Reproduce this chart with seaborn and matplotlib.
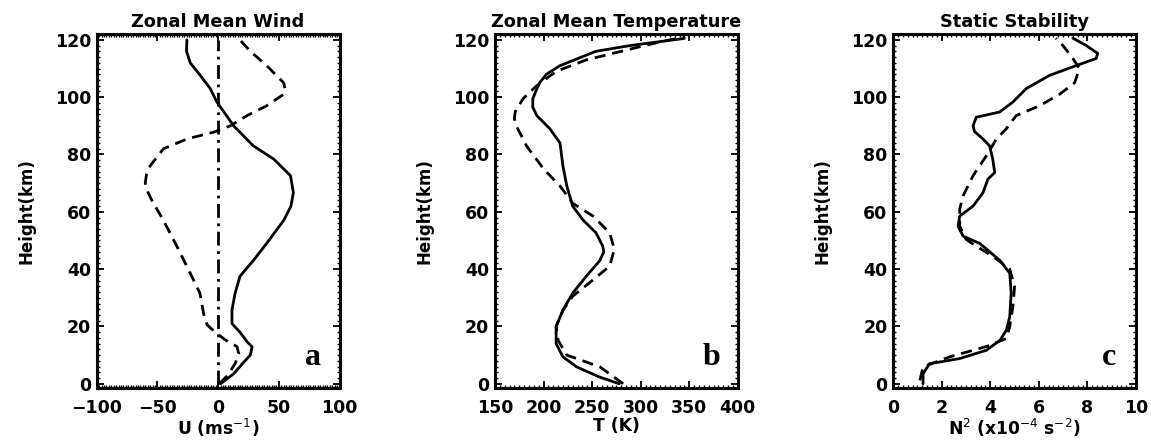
import numpy as np
import pandas as pd
import matplotlib
matplotlib.use("Agg")
import matplotlib.pyplot as plt
import seaborn as sns
from matplotlib.ticker import MultipleLocator

sns.set_theme(style="ticks")
plt.rcParams['font.family'] = ['DejaVu Sans']
plt.rcParams.update({"text.color": "black", "axes.labelcolor": "black",
                     "xtick.color": "black", "ytick.color": "black",
                     "axes.edgecolor": "black"})

# ---- Panel a: Zonal mean wind ----
wind_solid_h = [0, 3.5, 7, 10, 12.9, 14.6, 18, 21, 25.7, 31.6, 37.5, 43, 49, 57, 62, 66.7, 72.6, 78.4, 83, 90, 95, 98.3, 103, 107.6, 112, 116, 120]
wind_solid_u = [2, 12.8, 20, 26.5, 28, 24, 18, 11.4, 11.4, 14, 18, 29, 40, 54, 60, 62, 59.6, 45.8, 29, 12.8, 4.5, -1, -6.5, -14.7, -23, -26, -25.7]
wind_dash_h = [0, 3, 7, 10.5, 13, 15, 17.5, 20.5, 24.6, 31.6, 38.6, 48, 57, 64, 67, 70, 73, 76, 82, 85.4, 87.8, 90, 93.6, 97, 101, 103, 105, 111, 116, 120]
wind_dash_u = [1, 8, 14, 17, 15.5, 7, -1, -9, -12, -15, -23, -34, -45, -54.6, -58, -60, -59, -56, -45, -25.7, -3.7, 10, 24, 40, 54, 55, 54, 40, 26.5, 18]
wind_zero_h = [0, 120]
wind_zero_u = [0, 0]

# ---- Panel b: Zonal mean temperature ----
temp_solid_h = [0, 2.3, 5.9, 9.4, 14, 20, 25.7, 31.6, 37.5, 43, 46, 48, 52.7, 57, 62, 69, 76, 84, 89, 93.6, 96.5, 99.5, 102, 105, 108, 111, 116, 118, 120.5]
temp_solid_t = [278, 258, 234, 220, 213, 213, 220, 230, 244, 258, 262, 261, 254, 241, 230, 224, 220, 217, 206.5, 193, 189, 189, 192, 196, 203, 217, 254, 289, 345]
temp_dash_h = [0, 5.9, 8.8, 10, 15.2, 20, 25.7, 30.5, 36, 41, 47, 52.7, 58.5, 63, 69, 75, 83, 90, 92.5, 95, 99.5, 104, 109, 113, 117, 119.5, 121]
temp_dash_t = [282, 258, 234, 224, 215, 213, 220, 230, 250, 268, 273, 268, 251, 230, 217, 200, 182.5, 172, 170, 171, 179, 193, 213, 244, 292, 323, 345]

# ---- Panel c: Static stability ----
n2_solid_h = [0, 3.5, 7, 8.8, 11.7, 15.2, 18.7, 23.4, 31.6, 38.6, 43, 49, 51.5, 55, 58.5, 62, 66.7, 71.4, 73.7, 78.4, 83, 85.4, 88, 90, 93, 94.8, 98.3, 103, 107.6, 111, 113.5, 115.3, 118, 120.6]
n2_solid_v = [1.23, 1.23, 1.5, 2.74, 3.84, 4.4, 4.66, 4.8, 4.86, 4.8, 4.4, 3.56, 2.88, 2.67, 2.74, 3.29, 3.7, 3.9, 4.18, 4.1, 3.97, 3.7, 3.35, 3.29, 3.42, 4.38, 4.93, 5.48, 6.44, 7.53, 8.36, 8.42, 7.95, 7.4]
n2_dash_h = [1.2, 5.9, 9.4, 13, 15.8, 20, 27, 34, 40, 44.5, 48, 50.4, 55, 61, 65.6, 72.6, 79.6, 85.4, 89, 93.6, 97, 101, 105, 110, 113.5, 118, 120.6]
n2_dash_v = [1.1, 1.23, 2.33, 3.84, 4.66, 4.8, 4.93, 5.0, 4.8, 4.1, 3.42, 3.0, 2.74, 2.74, 2.88, 3.29, 3.84, 4.25, 4.66, 5.07, 6.03, 6.85, 7.47, 7.67, 7.4, 6.99, 6.7]

titles = ["Zonal Mean Wind", "Zonal Mean Temperature", "Static Stability"]
xlabels = ["U (ms$^{-1}$)", "T (K)", "N$^2$ (x10$^{-4}$ s$^{-2}$)"]
panel_letters = ["a", "b", "c"]
xlims = [(-100, 100), (150, 400), (0, 10)]
xmajor = [50, 50, 2]
xminor = [2, 5, 0.2]

fig = plt.figure(figsize=(11.51, 4.43), dpi=100)
lefts = [0.084, 0.430, 0.776]
axes = [fig.add_axes([l, 0.124, 0.211, 0.799]) for l in lefts]

lw = 2.0
dash = (0, (4, 2.5))

def draw(ax, x, y, ls):
    df = pd.DataFrame({"x": x, "y": y})
    sns.lineplot(data=df, x="x", y="y", orient="y", estimator=None, sort=True,
                 ax=ax, color="black", lw=lw, linestyle=ls)

draw(axes[0], wind_solid_u, wind_solid_h, "-")
draw(axes[0], wind_dash_u, wind_dash_h, dash)
draw(axes[0], wind_zero_u, wind_zero_h, (0, (5, 2, 1, 2)))
draw(axes[1], temp_solid_t, temp_solid_h, "-")
draw(axes[1], temp_dash_t, temp_dash_h, dash)
draw(axes[2], n2_solid_v, n2_solid_h, "-")
draw(axes[2], n2_dash_v, n2_dash_h, dash)

for i, ax in enumerate(axes):
    ax.set_xlim(*xlims[i])
    ax.set_ylim(-1.5, 122)
    ax.xaxis.set_major_locator(MultipleLocator(xmajor[i]))
    ax.xaxis.set_minor_locator(MultipleLocator(xminor[i]))
    ax.yaxis.set_major_locator(MultipleLocator(20))
    ax.yaxis.set_minor_locator(MultipleLocator(2))
    ax.tick_params(which="both", direction="in", top=True, right=True, color="black")
    ax.tick_params(which="major", length=5, width=1.3)
    ax.tick_params(which="minor", length=2.2, width=1.0)
    ax.tick_params(axis="x", which="major", pad=8, labelsize=12.5)
    ax.tick_params(axis="y", which="major", pad=4, labelsize=12.5)
    for lab in ax.get_xticklabels() + ax.get_yticklabels():
        lab.set_fontweight("bold")
    for sp in ax.spines.values():
        sp.set_linewidth(2.2)
        sp.set_color("black")
    ax.set_title(titles[i], fontsize=12.8, fontweight="bold", pad=5)
    ax.set_xlabel(xlabels[i], fontsize=12.3, fontweight="bold", labelpad=0)
    ax.set_ylabel("Height(km)", fontsize=12, fontweight="bold", labelpad=14)
    ax.text(0.89, 0.085, panel_letters[i], transform=ax.transAxes, ha="center", va="center",
            fontsize=23, fontweight="bold", family="Liberation Serif")
    ax.set_facecolor("white")

fig.savefig("out.png", dpi=100, facecolor="white")
